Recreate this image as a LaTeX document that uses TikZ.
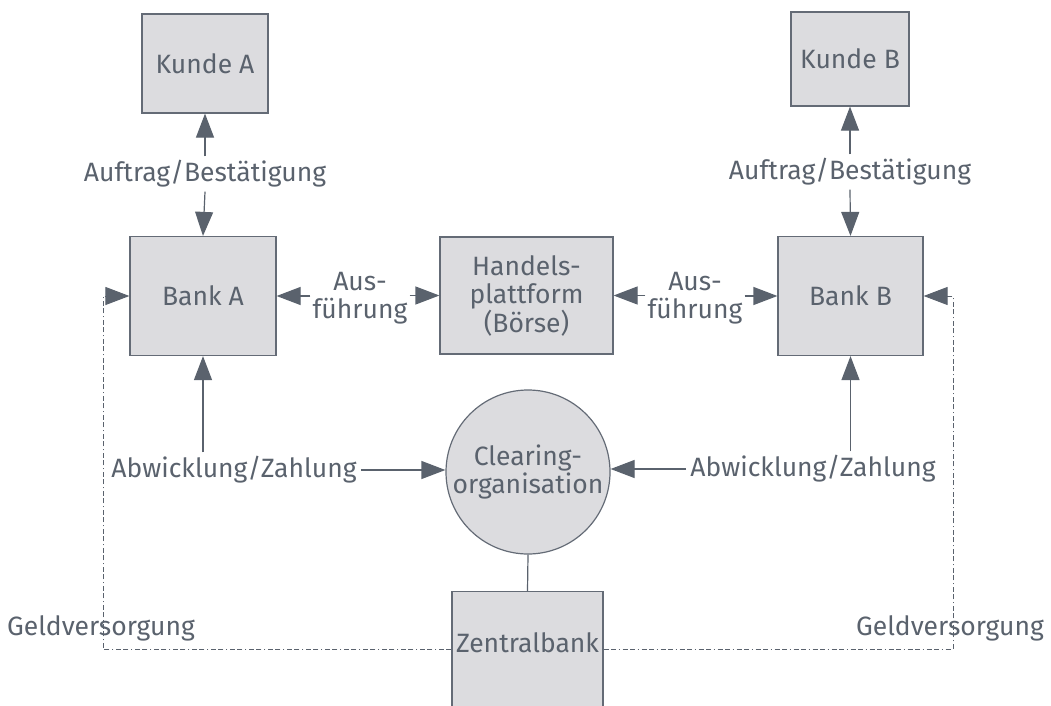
\documentclass[tikz,border=0pt]{standalone}
\usepackage{fontspec}
\setmainfont{Fira Sans}
\usetikzlibrary{arrows.meta}
\definecolor{boxfill}{HTML}{DCDCDF}
\definecolor{boxline}{HTML}{646B76}
\definecolor{ink}{HTML}{5A626D}
\begin{document}
\begin{tikzpicture}[
    x = 1pt,
    y = -1pt,
    >={Triangle[length=24pt,width=18pt]},
    every node/.style = {text=ink, font=\fontsize{26.5}{28}\selectfont},
    box/.style = {rectangle, draw=boxline, fill=boxfill, line width=1.2pt,
              inner sep=0pt, align=center},
    hub/.style = {circle, draw=boxline, fill=boxfill, line width=1.2pt,
              minimum size=164pt, inner sep=0pt, align=center},
    lbl/.style = {inner sep=2pt, align=center},
    flow/.style = {draw=ink, line width=1.2pt},
    geld/.style = {draw=ink, line width=1pt,
              dash pattern=on 5pt off 2.5pt on 5pt off 2.5pt on 1.5pt off 2.5pt},
    ]

\clip (0,0) rectangle (1051,706);

% boxes
\node[box, minimum width=126pt, minimum height=99pt] (kundeA) at (205,63.5) {Kunde A};
\node[box, minimum width=118pt, minimum height=94pt] (kundeB) at (850,59) {Kunde B};
\node[box, minimum width=146pt, minimum height=119pt] (bankA) at (203,296) {Bank A};
\node[box, minimum width=145pt, minimum height=119pt] (bankB) at (850.5,296) {Bank B};
\node[box, minimum width=173pt, minimum height=117pt] (boerse) at (526.5,295.5) {Handels-\\plattform\\(Börse)};
\node[hub] (clearing) at (528,472) {Clearing-\\organisation};
\node[box, anchor=north, minimum width=151pt, text height=61pt, text depth=80pt] (zentral) at (527.5,591) {Zentralbank};

% labels
\node[lbl, inner sep=4pt] (auftragA) at (205,174) {Auftrag/Bestätigung};
\node[lbl, inner sep=4pt] (auftragB) at (850,172) {Auftrag/Bestätigung};
\node[lbl] (ausfA) at (360,298) {Aus-\\führung};
\node[lbl] (ausfB) at (695,298) {Aus-\\führung};
\node[lbl, inner sep=4pt] (abwA) at (234,470) {Abwicklung/Zahlung};
\node[lbl, inner sep=4pt] (abwB) at (813,469) {Abwicklung/Zahlung};
\node[lbl] (geldA) at (101,628) {Geldversorgung};
\node[lbl] (geldB) at (950,628) {Geldversorgung};

\coordinate (ecA) at (103,649);
\coordinate (ecB) at (953,649);

% connectors
\draw[flow, ->] (auftragA.north) -- (kundeA.south);
\draw[flow, ->] (auftragA.south) -- (bankA.north);
\draw[flow, ->] (auftragB.north) -- (kundeB.south);
\draw[flow, ->] (auftragB.south) -- (bankB.north);

\draw[flow, ->] (ausfA.west |- bankA.east) -- (bankA.east);
\draw[flow, ->] (ausfA.east |- boerse.west) -- (boerse.west);
\draw[flow, ->] (ausfB.west |- boerse.east) -- (boerse.east);
\draw[flow, ->] (ausfB.east |- bankB.west) -- (bankB.west);

\draw[flow, ->] (abwA.north -| bankA.south) -- (bankA.south);
\draw[flow, ->] (abwA.east) -- (clearing.west |- abwA.east);
\draw[flow, ->] (abwB.north -| bankB.south) -- (bankB.south);
\draw[flow, ->] (abwB.west) -- (clearing.east |- abwB.west);

\draw[flow] (clearing.south) -- (zentral.north);

\draw[geld, ->] (zentral.west |- ecA) -- (ecA) |- (bankA.west);
\draw[geld, ->] (zentral.east |- ecB) -- (ecB) |- (bankB.east);

\end{tikzpicture}
\end{document}
